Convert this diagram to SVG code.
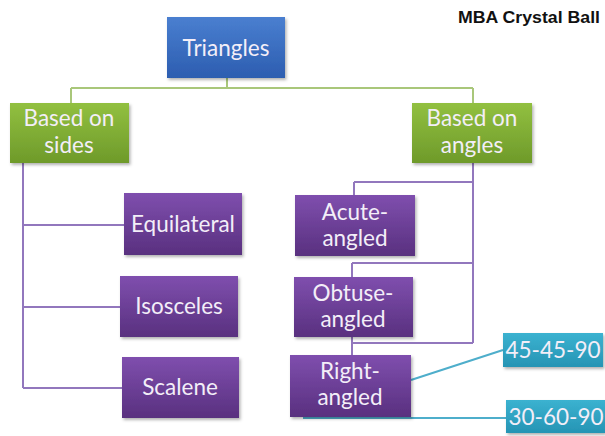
<svg xmlns="http://www.w3.org/2000/svg" width="605" height="436" viewBox="0 0 605 436">
<defs>
<linearGradient id="gBlue" x1="0" y1="0" x2="0" y2="1"><stop offset="0" stop-color="#4a7fd0"/><stop offset="1" stop-color="#2c5db0"/></linearGradient>
<linearGradient id="gGreen" x1="0" y1="0" x2="0" y2="1"><stop offset="0" stop-color="#92c040"/><stop offset="1" stop-color="#6e9a2a"/></linearGradient>
<linearGradient id="gPurple" x1="0" y1="0" x2="0" y2="1"><stop offset="0" stop-color="#7f4fae"/><stop offset="1" stop-color="#59307f"/></linearGradient>
<linearGradient id="gTeal" x1="0" y1="0" x2="0" y2="1"><stop offset="0" stop-color="#3bb2d0"/><stop offset="1" stop-color="#2694b4"/></linearGradient>
<filter id="sh" x="-10%" y="-10%" width="125%" height="130%"><feDropShadow dx="1.5" dy="2" stdDeviation="1.5" flood-color="#000" flood-opacity="0.3"/></filter>
</defs>
<style>
.t{font-family:Lato,"Open Sans","Liberation Sans",sans-serif;font-size:22.5px;fill:#f3eef8;text-anchor:middle}
.cg{stroke:#a9c77a;stroke-width:2;fill:none}
.cp{stroke:#9277bd;stroke-width:2;fill:none}
.ct{stroke:#4eaecb;stroke-width:2;fill:none}
.logo{font-family:"Liberation Sans",Arial,sans-serif;font-weight:bold;font-size:17px;fill:#111}
</style>
<rect width="605" height="436" fill="#fff"/>
<g id="connectors">
<path class="cg" d="M227 78V88M71 88H473M71 88V103M473 88V103"/>
<path class="cp" d="M23 163V388M23 225H124M23 307H120M23 388H122"/>
<path class="cp" d="M473 163V343M354 182H473M354 182V195M352 263H473M352 263V277M352 343H473M352 337V355"/>
<path class="ct" d="M411 380L503 350M303 418H506"/>
</g>
<g id="triangles"><rect x="167" y="17" width="118" height="61" fill="url(#gBlue)" filter="url(#sh)"/><text class="t" x="226" y="56">Triangles</text></g>
<g id="based-sides"><rect x="10" y="103" width="119" height="60" fill="url(#gGreen)" filter="url(#sh)"/><text class="t" x="69" y="126">Based on</text><text class="t" x="69" y="153">sides</text></g>
<g id="based-angles"><rect x="412" y="103" width="120" height="60" fill="url(#gGreen)" filter="url(#sh)"/><text class="t" x="472" y="126">Based on</text><text class="t" x="472" y="153">angles</text></g>
<g id="equilateral"><rect x="124" y="193" width="118" height="62" fill="url(#gPurple)" filter="url(#sh)"/><text class="t" x="183" y="232">Equilateral</text></g>
<g id="isosceles"><rect x="120" y="276" width="118" height="61" fill="url(#gPurple)" filter="url(#sh)"/><text class="t" x="179" y="314">Isosceles</text></g>
<g id="scalene"><rect x="122" y="357" width="117" height="61" fill="url(#gPurple)" filter="url(#sh)"/><text class="t" x="180" y="395">Scalene</text></g>
<g id="acute"><rect x="295" y="195" width="120" height="61" fill="url(#gPurple)" filter="url(#sh)"/><text class="t" x="355" y="220">Acute-</text><text class="t" x="355" y="246">angled</text></g>
<g id="obtuse"><rect x="294" y="277" width="119" height="60" fill="url(#gPurple)" filter="url(#sh)"/><text class="t" x="353" y="301">Obtuse-</text><text class="t" x="353" y="327">angled</text></g>
<g id="right"><rect x="290" y="355" width="121" height="62" fill="url(#gPurple)" filter="url(#sh)"/><text class="t" x="350" y="379">Right-</text><text class="t" x="350" y="405">angled</text></g>
<g id="t45"><rect x="503" y="333" width="100" height="34" fill="url(#gTeal)" filter="url(#sh)"/><text class="t" x="553" y="358">45-45-90</text></g>
<g id="t30"><rect x="506" y="400" width="99" height="33" fill="url(#gTeal)" filter="url(#sh)"/><text class="t" x="556" y="425">30-60-90</text></g>
<text class="logo" x="458" y="23" textLength="142" lengthAdjust="spacingAndGlyphs">MBA Crystal Ball</text>
</svg>
